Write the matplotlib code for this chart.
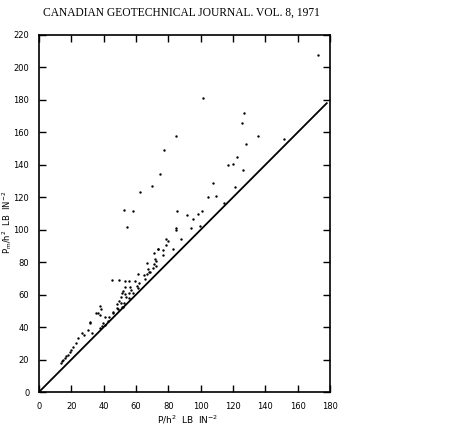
import matplotlib
matplotlib.use("Agg")
import matplotlib.pyplot as plt

# data points (P/h^2, Pm/h^2)
x_vals = [172.8, 101.4, 127.0, 125.5, 84.7, 77.5, 74.8, 69.7, 62.3, 52.6, 58.3, 54.4,
          127.8, 135.6, 151.7, 122.4, 116.7, 120.0, 126.4, 107.4, 121.4, 104.7, 109.5,
          114.6, 85.5, 91.5, 98.5, 100.8, 95.4, 84.7, 84.7, 94.0, 99.4, 78.5, 79.6, 87.8,
          78.4, 73.4, 83.1,
          73.8, 76.7, 71.3, 76.5, 71.5, 72.5, 71.2, 72.4, 70.8, 66.8, 67.5, 68.5, 67.0,
          68.2, 61.4, 65.1, 65.6, 44.9, 49.3, 53.2, 55.7, 59.4, 61.6, 60.4, 61.0, 53.0,
          56.3, 52.0, 51.5, 53.0, 57.1, 55.8, 58.3, 50.7, 53.6, 55.8, 49.5, 51.0, 48.5,
          52.5, 48.0, 52.1, 46.0, 45.8, 48.7, 51.1,
          37.7, 38.3, 36.3, 37.7, 40.8, 39.8, 38.8, 40.8, 37.7, 31.7, 30.5, 33.0, 26.4,
          24.3, 22.7, 21.0, 20.0, 19.0, 18.0, 17.0, 16.0, 15.0, 14.0, 13.5, 28.0, 35.3,
          31.5, 42.5, 43.5]
y_vals = [207.5, 181.0, 171.9, 165.9, 157.9, 149.1, 134.1, 126.9, 123.0, 112.0, 111.7, 101.9,
          152.6, 157.9, 155.7, 145.0, 139.7, 140.3, 136.8, 128.6, 126.1, 120.3, 120.8,
          116.6, 111.5, 109.2, 109.9, 111.5, 106.6, 100.9, 99.6, 100.9, 102.3, 94.1, 93.0, 94.3,
          90.6, 88.1, 88.1,
          87.9, 87.5, 85.8, 84.2, 82.0, 80.5, 79.0, 77.5, 76.5, 79.7, 75.5, 74.0, 73.0,
          73.8, 72.5, 72.3, 69.4, 68.8, 68.8, 68.4, 68.2, 68.4, 67.0, 65.3, 64.0, 64.9,
          64.9, 62.5, 61.0, 60.5, 62.8, 61.2, 60.8, 58.7, 58.3, 57.7, 56.0, 55.0, 54.0,
          55.0, 51.6, 52.6, 49.5, 48.9, 51.1, 52.2,
          53.0, 51.1, 48.5, 47.6, 46.4, 42.3, 40.7, 41.0, 39.7, 42.3, 38.2, 36.2, 36.2,
          33.1, 30.0, 28.0, 26.0, 24.5, 23.0, 22.0, 21.0, 20.0, 19.0, 18.0, 35.0, 48.9,
          43.3, 44.0, 46.0]

line_x = [0, 178]
line_y = [0, 178]

x_ticks = [0, 20, 40, 60, 80, 100, 120, 140, 160, 180]
y_ticks = [0, 20, 40, 60, 80, 100, 120, 140, 160, 180, 200, 220]

W, H = 453, 434
fig = plt.figure(figsize=(W / 100, H / 100), dpi=100)
ax = fig.add_axes([39 / W, 1 - 392 / H, 291 / W, 357 / H])

ax.plot(line_x, line_y, color="black", lw=1.3)
ax.scatter(x_vals, y_vals, s=3, color="black", lw=0)

ax.set_xlim(0, 180)
ax.set_ylim(0, 220)
ax.set_xticks(x_ticks)
ax.set_yticks(y_ticks)
ax.tick_params(direction="in", length=5, width=1.0, top=True, right=True,
               labelsize=6, pad=7.5)
ax.tick_params(axis="y", pad=7)
for s in ax.spines.values():
    s.set_linewidth(1.2)

fig.text(188 / W, 1 - 420 / H, r"$\mathsf{P/h^2}$  LB  IN$^{-2}$",
         ha="center", va="center", fontsize=6.5)
fig.text(7 / W, 1 - 222 / H, r"$\mathsf{P_m/h^2}$  LB  IN$^{-2}$",
         ha="center", va="center", fontsize=6, rotation=90)

fig.text(181 / W, 1 - 13 / H, "CANADIAN GEOTECHNICAL JOURNAL. VOL. 8, 1971",
         ha="center", va="center", fontsize=8.3, family="Liberation Serif")

fig.savefig("out.png", dpi=100)
